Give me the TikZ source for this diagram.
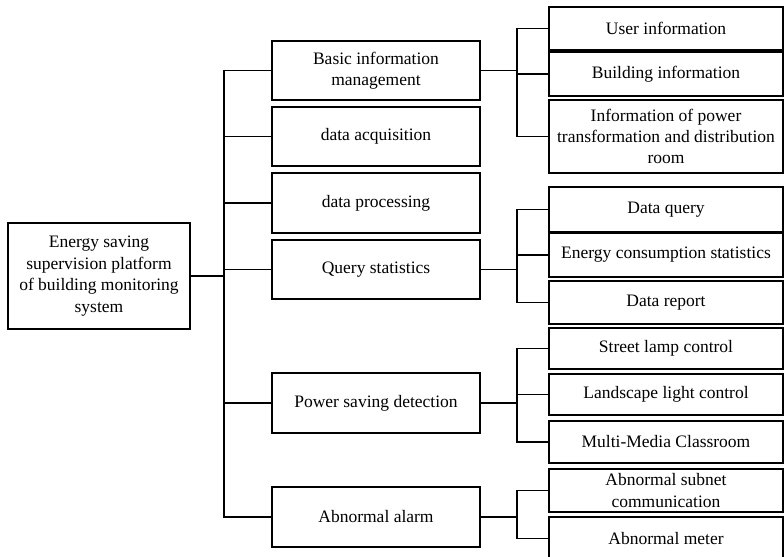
\documentclass[tikz,border=0pt]{standalone}
\usepackage{fontspec}
\setmainfont{Liberation Serif}
\usetikzlibrary{calc}
\tikzset{
	box/.style={draw, line width=0.8pt, align=center, inner sep=0pt, outer sep=0pt,
		font=\fontsize{8.75}{10.7}\selectfont},
	topbox/.style={box, minimum width=104pt, minimum height=#1},
	topbox/.default=29.5pt,
	subbox/.style={box, minimum width=117pt, minimum height=#1},
	subbox/.default=22pt,
	link/.style={line width=0.8pt}
}

\begin{document}
\begin{tikzpicture}[x=0.5pt,y=-0.5pt]
	\useasboundingbox (0,0) rectangle (784,557);
	% root
	\node[box, minimum width=91pt, minimum height=53pt] (root) at (99,276) {Energy saving\\supervision platform\\of building monitoring\\system};
	
	% first level
	\node[topbox] (basic) at (376,70.5) {Basic information\\management};
	\node[topbox] (acq) at (376,136.5) {data acquisition};
	\node[topbox=30pt] (proc) at (376,203) {data processing};
	\node[topbox] (query) at (376,269.5) {Query statistics};
	\node[topbox=30pt] (power) at (376,403) {Power saving detection};
	\node[topbox=30pt] (alarm) at (376,517) {Abnormal alarm};
	
	% second level
	\node[subbox=21.5pt] (user) at (666,28.5) {User information};
	\node[subbox] (build) at (666,74) {Building information};
	\node[subbox=36.5pt] (room) at (666,136.5) {Information of power\\transformation and distribution\\room};
	
	\node[subbox=22.5pt] (dquery) at (666,209.5) {Data query};
	\node[subbox] (energy) at (666,255) {Energy consumption statistics};
	\node[subbox=21.5pt] (report) at (666,302.5) {Data report};
	
	\node[subbox=20.5pt] (street) at (666,348.5) {Street lamp control};
	\node[subbox=20.5pt] (land) at (666,394.5) {Landscape light control};
	\node[subbox=21pt] (media) at (666,442) {Multi-Media Classroom};
	
	\node[subbox=21.5pt] (subnet) at (666,490.5) {Abnormal subnet\\communication};
	\node[subbox=21.5pt] (meter) at (666,538.5) {Abnormal meter};
	
	% trunks
	\coordinate (t0) at (224,0);
	\coordinate (t1) at (517,0);
	
	\draw[link] (root.east) -- (root.east -| t0);
	\foreach \n in {basic,acq,proc,query,power,alarm}
		\draw[link] (root.east -| t0) |- (\n.west);
	
	\draw[link] (basic.east) -- (basic.east -| t1);
	\foreach \n in {user,build,room}
		\draw[link] (basic.east -| t1) |- (\n.west);
	
	\draw[link] (query.east) -- (query.east -| t1);
	\foreach \n in {dquery,energy,report}
		\draw[link] (query.east -| t1) |- (\n.west);
	
	\draw[link] (power.east) -- (power.east -| t1);
	\foreach \n in {street,land,media}
		\draw[link] (power.east -| t1) |- (\n.west);
	
	\draw[link] (alarm.east) -- (alarm.east -| t1);
	\foreach \n in {subnet,meter}
		\draw[link] (alarm.east -| t1) |- (\n.west);
\end{tikzpicture}
\end{document}
